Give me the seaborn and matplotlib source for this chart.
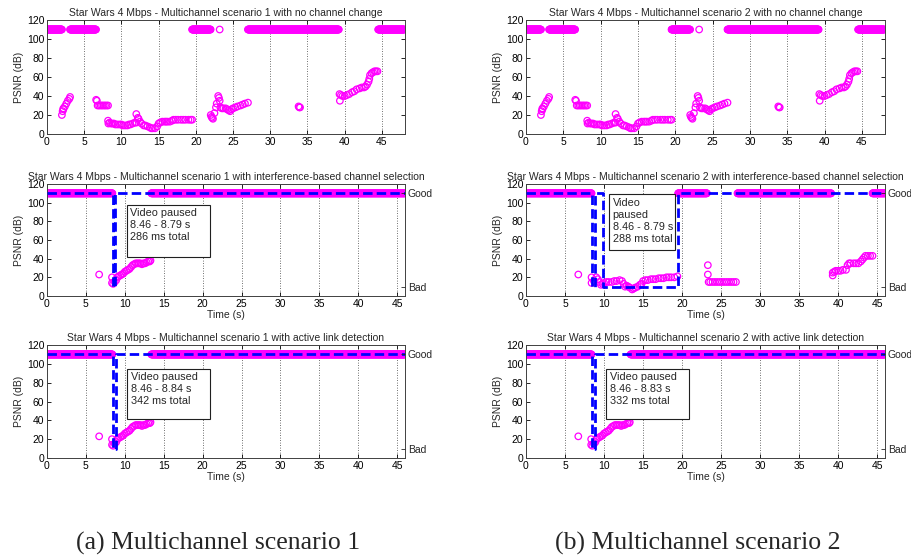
import numpy as np
import pandas as pd
import matplotlib
matplotlib.use("Agg")
import matplotlib.pyplot as plt
from matplotlib.patches import Rectangle
import seaborn as sns

sns.set_style("ticks")
plt.rcParams['font.family'] = ['Liberation Sans', 'DejaVu Sans']

MAGENTA = "#ff00ff"
GOOD = 110
FPS = 25

# ---------------- data: no channel change (both scenarios look the same) ----
nc_good_segments = [(0.0, 2.0), (3.1, 6.6), (19.5, 22.0), (27.0, 39.2), (44.5, 48.0)]
nc_t = [2.0, 2.1, 2.2, 2.2, 2.4, 2.6, 2.8, 3.0, 3.1,
        6.6, 6.7, 6.8, 7.0, 7.2, 7.4, 7.6, 7.8, 8.0, 8.2,
        8.2, 8.25, 8.4, 8.6, 8.8, 9.0, 9.2, 9.5, 9.8, 10.0, 10.2, 10.5, 10.8, 11.0, 11.2,
        11.5, 11.8, 12.0, 12.0, 12.2, 12.3, 12.5, 12.7, 13.0, 13.2, 13.5, 13.8, 14.0, 14.2,
        14.5, 14.8, 15.0, 15.2, 15.5, 15.8, 16.0, 16.2, 16.5, 16.8, 17.0, 17.3, 17.6, 18.0,
        18.3, 18.6, 19.0, 19.3, 19.5,
        22.0, 22.1, 22.2, 22.3, 22.5, 22.7, 22.8, 23.0, 23.1, 23.2, 23.2, 23.3, 23.5, 23.7,
        24.0, 24.2, 24.4, 24.6, 24.8, 25.0, 25.3, 25.6, 26.0, 26.3, 26.6, 27.0,
        33.8, 33.9, 34.0,
        39.3, 39.35, 39.5, 39.7, 40.0, 40.3, 40.6, 41.0, 41.3, 41.6, 42.0, 42.3, 42.6,
        42.8, 43.0, 43.2, 43.3, 43.4, 43.6, 43.8, 44.0, 44.2, 44.4]
nc_psnr = [20, 24, 26, 27, 29, 32, 35, 37, 39,
           36, 35, 30, 30, 30, 30, 30, 30, 30, 30,
           14, 11, 12, 11, 11, 11, 10, 10, 10, 10, 9, 9, 9, 10, 10,
           11, 12, 12, 21, 17, 16, 13, 11, 9, 9, 8, 7, 6, 6,
           6, 8, 11, 12, 13, 13, 13, 13, 13, 14, 15, 15, 15, 15,
           15, 15, 15, 15, 15,
           20, 18, 17, 16, 22, 28, 32, 40, 38, 35, 110, 28, 27, 27,
           27, 26, 25, 24, 26, 27, 28, 29, 30, 31, 32, 33,
           29, 28, 28,
           42, 35, 41, 40, 40, 41, 42, 44, 45, 47, 48, 49, 49,
           50, 52, 55, 58, 62, 64, 65, 66, 66, 66]

# ---------------- scenario 1: interference-based channel selection -----------
s1i_good_segments = [(0.0, 8.4), (13.4, 46.0)]
s1i_t = [6.7, 8.35, 8.35, 8.5, 8.7, 8.9, 9.0, 9.2, 9.4, 9.6, 9.8, 10.0, 10.2, 10.4,
         10.6, 10.8, 11.0, 11.2, 11.4, 11.6, 11.8, 12.0, 12.2, 12.4, 12.6, 12.8, 13.0,
         13.2, 13.3]
s1i_psnr = [23, 20, 14, 13, 15, 17, 20, 21, 22, 23, 24, 26, 27, 28,
            29, 31, 33, 34, 35, 35, 35, 35, 34, 35, 35, 36, 37, 37, 38]
s1i_status_t = [0.0, 8.46, 8.46, 8.79, 8.79, 46.0]
s1i_status_v = [110, 110, 10, 10, 110, 110]

# ---------------- scenario 2: interference-based channel selection -----------
s2i_good_segments = [(0.0, 8.4), (19.5, 23.2), (27.1, 39.1), (44.4, 46.0)]
s2i_t = [6.7, 8.4, 8.4, 8.7, 9.0, 9.2, 9.4, 9.6, 9.8, 10.0, 10.3, 10.6, 11.0, 11.3,
         11.6, 12.0, 12.3, 12.5, 12.7, 12.9, 13.1, 13.3, 13.6, 13.8, 14.0, 14.3, 14.6,
         14.8, 15.0, 15.3, 15.6, 16.0, 16.3, 16.6, 17.0, 17.3, 17.6, 18.0, 18.3, 18.6,
         19.0, 19.4,
         23.3, 23.3, 23.4, 23.6, 23.9, 24.2, 24.5, 24.8, 25.1, 25.4, 25.7, 26.0, 26.3,
         26.6, 26.9,
         39.3, 39.3, 39.5, 39.7, 40.0, 40.3, 40.6, 41.0, 41.2, 41.4, 41.6, 42.0, 42.3,
         42.6, 42.9, 43.1, 43.3, 43.5, 43.8, 44.1, 44.4]
s2i_psnr = [23, 20, 14, 16, 20, 18, 15, 12, 13, 14, 15, 15, 15, 16,
            16, 17, 16, 13, 10, 11, 10, 9, 7, 8, 9, 10, 12,
            13, 16, 17, 17, 18, 18, 18, 19, 19, 19, 20, 20, 20,
            20, 21,
            33, 23, 15, 15, 15, 15, 15, 15, 15, 15, 15, 15, 15,
            15, 15,
            22, 25, 26, 27, 27, 27, 28, 28, 33, 35, 35, 35, 35,
            35, 37, 39, 41, 43, 43, 43, 43]
s2i_status_t = [0.0, 8.46, 8.46, 8.79, 8.79, 9.9, 9.9, 19.5, 19.5, 46.0]
s2i_status_v = [110, 110, 10, 10, 110, 110, 10, 10, 110, 110]

# ---------------- active link detection (scenarios 1 and 2) -----------------
al_good_segments = [(0.0, 8.4), (13.4, 46.0)]
al_t = s1i_t
al_psnr = s1i_psnr
s1a_status_t = [0.0, 8.46, 8.46, 8.84, 8.84, 46.0]
s2a_status_t = [0.0, 8.46, 8.46, 8.83, 8.83, 46.0]
al_status_v = [110, 110, 10, 10, 110, 110]

titles = {
    "1nc": "Star Wars 4 Mbps - Multichannel scenario 1 with no channel change",
    "2nc": "Star Wars 4 Mbps - Multichannel scenario 2 with no channel change",
    "1i": "Star Wars 4 Mbps - Multichannel scenario 1 with interference-based channel selection",
    "2i": "Star Wars 4 Mbps - Multichannel scenario 2 with interference-based channel selection",
    "1a": "Star Wars 4 Mbps - Multichannel scenario 1 with active link detection",
    "2a": "Star Wars 4 Mbps - Multichannel scenario 2 with active link detection",
}
box_texts = {
    "1i": "Video paused\n8.46 - 8.79 s\n286 ms total",
    "2i": "Video\npaused\n8.46 - 8.79 s\n288 ms total",
    "1a": "Video paused\n8.46 - 8.84 s\n342 ms total",
    "2a": "Video paused\n8.46 - 8.83 s\n332 ms total",
}


def frames(good_segments, t, psnr):
    tt, vv = [], []
    for a, b in good_segments:
        seg = np.arange(a, b + 1e-9, 1.0 / FPS)
        tt.extend(seg)
        vv.extend([GOOD] * len(seg))
    tt.extend(t)
    vv.extend(psnr)
    return pd.DataFrame({"t": tt, "psnr": vv})


FS = 7.5


def style_axes(ax, xmax, xlabel):
    ax.set_xlim(0, xmax)
    ax.set_ylim(0, 120)
    ax.set_xticks(np.arange(0, 46, 5))
    ax.set_yticks(np.arange(0, 121, 20))
    ax.tick_params(direction="in", length=3, width=0.6, labelsize=FS, pad=2,
                   top=True, right=True, colors="black")
    for s in ax.spines.values():
        s.set_linewidth(0.7)
        s.set_color("#404040")
    for x in np.arange(5, 46, 5):
        ax.axvline(x, color="0.25", lw=0.6, ls=(0, (1, 2)), zorder=0)
    ax.set_ylabel("PSNR (dB)", fontsize=FS, labelpad=2)
    ax.set_xlabel("Time (s)" if xlabel else "", fontsize=FS, labelpad=1)


def scatter(ax, df):
    sns.scatterplot(data=df, x="t", y="psnr", ax=ax, marker="o", s=22,
                    facecolors="none", edgecolor=MAGENTA, linewidth=0.9,
                    legend=False, zorder=2)
    ax.collections[-1].set_facecolor("none")


def status(ax, st_t, st_v, xmax):
    sns.lineplot(x=st_t, y=st_v, ax=ax, sort=False, estimator=None, color="#0000ff",
                 lw=2.0, linestyle=(0, (3.4, 1.5)), zorder=3)
    tw = ax.twinx()
    tw.set_ylim(0, 120)
    tw.set_yticks([10, 110])
    tw.set_yticklabels(["Bad", "Good"])
    tw.tick_params(direction="in", length=3, width=0.6, labelsize=FS, pad=2)
    for s in tw.spines.values():
        s.set_visible(False)
    ax.tick_params(right=False)


def pause_box(ax, rect, txt_xy, txt):
    x0, x1, y0, y1 = rect
    ax.add_patch(Rectangle((x0, y0), x1 - x0, y1 - y0, fc="white", ec="#202020",
                           lw=0.8, zorder=4))
    ax.text(txt_xy[0], txt_xy[1], txt, ha="left", va="top", fontsize=FS + 0.3,
            linespacing=1.25, zorder=5)


fig = plt.figure(figsize=(9.12, 5.59), dpi=100)
L = [47 / 912, 526 / 912]
W = [358 / 912, 359 / 912]
rows = [(0.7603, 0.2039), (0.4705, 0.2004), (0.1807, 0.2021)]

# top row
for c, key in enumerate(["1nc", "2nc"]):
    ax = fig.add_axes([L[c], rows[0][0], W[c], rows[0][1]])
    scatter(ax, frames(nc_good_segments, nc_t, nc_psnr))
    style_axes(ax, 48.1, False)
    ax.set_title(titles[key], fontsize=FS, pad=3)

# middle row
ax = fig.add_axes([L[0], rows[1][0], W[0], rows[1][1]])
scatter(ax, frames(s1i_good_segments, s1i_t, s1i_psnr))
style_axes(ax, 46, True)
status(ax, s1i_status_t, s1i_status_v, 46)
ax.set_title(titles["1i"], fontsize=FS, pad=3)
pause_box(ax, (10.3, 21.0, 42.0, 97.5), (10.7, 94), box_texts["1i"])

ax = fig.add_axes([L[1], rows[1][0], W[1], rows[1][1]])
scatter(ax, frames(s2i_good_segments, s2i_t, s2i_psnr))
style_axes(ax, 46, True)
status(ax, s2i_status_t, s2i_status_v, 46)
ax.set_title(titles["2i"], fontsize=FS, pad=3)
pause_box(ax, (10.6, 19.1, 49.3, 108.9), (11.1, 105), box_texts["2i"])

# bottom row
ax = fig.add_axes([L[0], rows[2][0], W[0], rows[2][1]])
scatter(ax, frames(al_good_segments, al_t, al_psnr))
style_axes(ax, 46, True)
status(ax, s1a_status_t, al_status_v, 46)
ax.set_title(titles["1a"], fontsize=FS, pad=3)
pause_box(ax, (10.3, 21.0, 41.4, 94.3), (10.8, 91), box_texts["1a"])

ax = fig.add_axes([L[1], rows[2][0], W[1], rows[2][1]])
scatter(ax, frames(al_good_segments, al_t, al_psnr))
style_axes(ax, 46, True)
status(ax, s2a_status_t, al_status_v, 46)
ax.set_title(titles["2a"], fontsize=FS, pad=3)
pause_box(ax, (10.3, 20.9, 41.4, 94.3), (10.75, 91), box_texts["2a"])

fig.text(218 / 912, 1 - 543 / 559, "(a) Multichannel scenario 1", ha="center",
         va="center", fontsize=18.5, family="Liberation Serif")
fig.text(698 / 912, 1 - 543 / 559, "(b) Multichannel scenario 2", ha="center",
         va="center", fontsize=18.5, family="Liberation Serif")

fig.savefig("out.png", dpi=100)
